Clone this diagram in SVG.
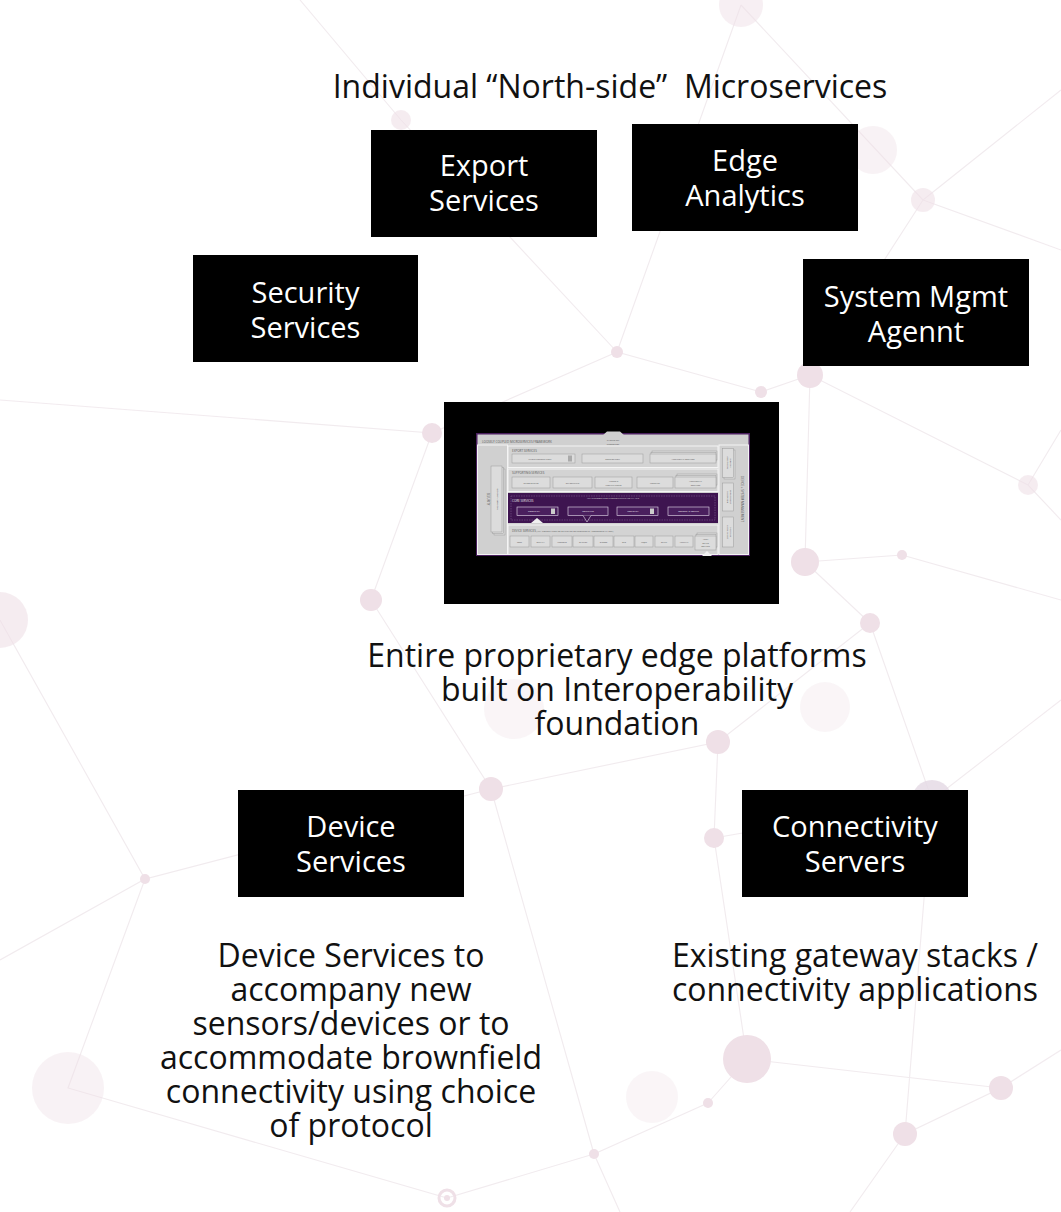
<svg xmlns="http://www.w3.org/2000/svg" width="1061" height="1212" viewBox="0 0 1061 1212">
<style>
.bg-line{stroke:#ece3e8;stroke-width:1.1;fill:none}
.bg-dot{fill:#e9d3dd}
.box{fill:#000}
.wt{font-family:"Open Sans","Noto Sans","DejaVu Sans",sans-serif;font-size:29px;fill:#fff;text-anchor:middle}
.bt{font-family:"Open Sans","Noto Sans","DejaVu Sans",sans-serif;font-size:32px;fill:#111;text-anchor:middle}
.mt{font-family:"Open Sans","Liberation Sans",sans-serif;fill:#555;text-anchor:middle}
.band{fill:#d3d3d3;stroke:#f4f4f4;stroke-width:1}
.ib{fill:#dcdcdc;stroke:#9a9a9a;stroke-width:0.5}
.cb{fill:#4a1f5e;stroke:#e8e0ee;stroke-width:0.6}
</style>
<rect width="1061" height="1212" fill="#fff"/>
<g id="background" opacity="0.7">
<path class="bg-line" d="M741 5L923 200M741 5L617 352M401 120L617 352M617 352L761 392L810 375L1028 485L1061 520M923 200L1061 250M923 200L810 375M617 352L432 433L371 600L491 789M0 400L432 433M810 375L805 562L902 555L1061 600M805 562L870 623L718 742L491 789M718 742L714 838L747 1059L1001 1088L905 1134L932 800L870 623M932 800L1061 700M491 789L145 879L0 620M145 879L68 1088L447 1198M491 789L594 1154L447 1198M708 1103L594 1154M905 1134L850 1212M1001 1088L1061 1050M714 838L932 800M0 960L145 879M747 1059L708 1103M594 1154L620 1212M1028 485L1061 430M401 120L300 0M923 200L1061 90"/>
<circle class="bg-dot" cx="741" cy="5" r="22" opacity="0.5"/>
<circle class="bg-dot" cx="401" cy="120" r="10" opacity="0.6"/>
<circle class="bg-dot" cx="873" cy="150" r="24" opacity="0.4"/>
<circle class="bg-dot" cx="923" cy="200" r="12" opacity="0.6"/>
<circle class="bg-dot" cx="617" cy="352" r="6"/>
<circle class="bg-dot" cx="761" cy="392" r="6"/>
<circle class="bg-dot" cx="810" cy="375" r="13"/>
<circle class="bg-dot" cx="1028" cy="485" r="10" opacity="0.6"/>
<circle class="bg-dot" cx="432" cy="433" r="10"/>
<circle class="bg-dot" cx="371" cy="600" r="11"/>
<circle class="bg-dot" cx="805" cy="562" r="14"/>
<circle class="bg-dot" cx="902" cy="555" r="5"/>
<circle class="bg-dot" cx="870" cy="623" r="10"/>
<circle class="bg-dot" cx="0" cy="620" r="28" opacity="0.6"/>
<circle class="bg-dot" cx="514" cy="709" r="30" opacity="0.3"/>
<circle class="bg-dot" cx="825" cy="707" r="25" opacity="0.3"/>
<circle class="bg-dot" cx="718" cy="742" r="12"/>
<circle class="bg-dot" cx="491" cy="789" r="12"/>
<circle class="bg-dot" cx="714" cy="838" r="10"/>
<circle cx="932" cy="800" r="20" fill="#d9c9da" opacity="0.8"/>
<circle class="bg-dot" cx="145" cy="879" r="5"/>
<circle class="bg-dot" cx="68" cy="1088" r="36" opacity="0.4"/>
<circle class="bg-dot" cx="747" cy="1059" r="24"/>
<circle class="bg-dot" cx="652" cy="1097" r="26" opacity="0.3"/>
<circle class="bg-dot" cx="708" cy="1103" r="5"/>
<circle class="bg-dot" cx="1001" cy="1088" r="12"/>
<circle class="bg-dot" cx="905" cy="1134" r="12"/>
<circle class="bg-dot" cx="594" cy="1154" r="5"/>
<circle cx="447" cy="1198" r="8" fill="none" stroke="#e9d3dd" stroke-width="3"/>
<circle class="bg-dot" cx="447" cy="1198" r="3"/>
</g>

<text class="bt" x="610" y="98" xml:space="preserve">Individual “North-side”  Microservices</text>

<g id="export-services">
<rect class="box" x="371" y="130" width="226" height="107"/>
<text class="wt" x="484" y="176">Export</text>
<text class="wt" x="484" y="211">Services</text>
</g>
<g id="edge-analytics">
<rect class="box" x="632" y="124" width="226" height="107"/>
<text class="wt" x="745" y="171">Edge</text>
<text class="wt" x="745" y="206">Analytics</text>
</g>
<g id="security-services">
<rect class="box" x="193" y="255" width="225" height="107"/>
<text class="wt" x="305.5" y="303">Security</text>
<text class="wt" x="305.5" y="338">Services</text>
</g>
<g id="system-mgmt">
<rect class="box" x="803" y="259" width="226" height="107"/>
<text class="wt" x="916" y="307">System Mgmt</text>
<text class="wt" x="916" y="342">Agennt</text>
</g>

<g id="platform">
<rect class="box" x="444" y="402" width="335" height="202"/>
<rect x="476" y="433" width="274" height="123" fill="#4a1f5e"/>
<rect x="477.5" y="434.5" width="271" height="120" fill="#d0d0d0"/>
<polygon points="592,445 607,431.5 620,431.5 635,445" fill="#d0d0d0"/>
<text class="mt" x="482" y="443" font-size="3" style="text-anchor:start">LOOSELY COUPLED MICROSERVICES FRAMEWORK</text>
<text class="mt" x="613" y="441" font-size="2.4">CHOICE OF</text>
<text class="mt" x="613" y="445" font-size="2.4">PROTOCOL</text>
<rect x="477.5" y="445" width="30" height="109.5" fill="#d0d0d0" stroke="#f4f4f4" stroke-width="1"/>
<text class="mt" font-size="2.8" transform="translate(487,499) rotate(90)">SECURITY</text>
<rect class="ib" x="494" y="469" width="11" height="66"/>
<rect class="ib" x="492.5" y="467.5" width="11" height="66"/>
<rect class="ib" x="491" y="466" width="11" height="66"/>
<text class="mt" font-size="2.4" transform="translate(496.5,499) rotate(90)">SECURITY SERVICES</text>
<rect x="719" y="445" width="29.5" height="109.5" fill="#d0d0d0" stroke="#f4f4f4" stroke-width="1"/>
<text class="mt" font-size="3" transform="translate(741,499) rotate(90)">DEVICE + SYSTEM MANAGEMENT</text>
<rect class="ib" x="724" y="450" width="11" height="29"/>
<rect class="ib" x="722.5" y="448.5" width="11" height="29"/>
<text class="mt" font-size="2.2" transform="translate(726.5,463) rotate(90)">ADDITIONAL</text>
<text class="mt" font-size="2.2" transform="translate(730,463) rotate(90)">SERVICES</text>
<rect class="ib" x="722.5" y="483" width="11" height="28"/>
<text class="mt" font-size="2.2" transform="translate(726.5,497) rotate(90)">CONTAINER</text>
<text class="mt" font-size="2.2" transform="translate(730,497) rotate(90)">DEPLOYMENT</text>
<rect class="ib" x="722.5" y="517" width="11" height="30"/>
<text class="mt" font-size="2.2" transform="translate(726.5,532) rotate(90)">LOCAL MGMT</text>
<text class="mt" font-size="2.2" transform="translate(730,532) rotate(90)">CONSOLE</text>
<rect class="band" x="508" y="446" width="210" height="21.5"/>
<text class="mt" x="512" y="451.5" font-size="3" style="text-anchor:start">EXPORT SERVICES</text>
<rect class="ib" x="512" y="454" width="63" height="9"/>
<text class="mt" x="540" y="459.5" font-size="2.2">CLIENT REGISTRATION</text>
<rect x="568" y="455.5" width="4" height="6" fill="#aaa"/>
<rect class="ib" x="582" y="454" width="61" height="9"/>
<text class="mt" x="612.5" y="459.5" font-size="2.2">DISTRIBUTION</text>
<rect class="ib" x="652" y="451" width="65" height="9"/>
<rect class="ib" x="651" y="452.5" width="65" height="9"/>
<rect class="ib" x="650" y="454" width="66" height="9"/>
<text class="mt" x="683" y="459.5" font-size="2.2">ADDITIONAL SERVICES</text>
<rect class="band" x="508" y="469" width="210" height="22.5"/>
<text class="mt" x="512" y="474" font-size="3" style="text-anchor:start">SUPPORTING SERVICES</text>
<rect class="ib" x="512" y="477" width="38" height="11"/>
<text class="mt" x="531" y="483.5" font-size="2.2">RULES ENGINE</text>
<rect class="ib" x="553" y="477" width="39" height="11"/>
<text class="mt" x="572.5" y="483.5" font-size="2.2">SCHEDULING</text>
<rect class="ib" x="595" y="477" width="37" height="11"/>
<text class="mt" x="613.5" y="482" font-size="2.2">ALERTS &amp;</text>
<text class="mt" x="613.5" y="485.5" font-size="2.2">NOTIFICATIONS</text>
<rect class="ib" x="637" y="477" width="36" height="11"/>
<text class="mt" x="655" y="483.5" font-size="2.2">LOGGING</text>
<rect class="ib" x="677" y="474" width="40" height="11"/>
<rect class="ib" x="676" y="475.5" width="40" height="11"/>
<rect class="ib" x="675" y="477" width="41" height="11"/>
<text class="mt" x="695.5" y="482" font-size="2.2">ADDITIONAL</text>
<text class="mt" x="695.5" y="485.5" font-size="2.2">SERVICES</text>
<rect x="508" y="493" width="210" height="30" fill="#3e1450"/>
<rect x="511" y="496" width="204" height="24" fill="none" stroke="#8a6a9a" stroke-width="0.5" stroke-dasharray="1.5,1"/>
<text class="mt" x="512" y="502" font-size="3" style="text-anchor:start;fill:#eee">CORE SERVICES</text>
<text class="mt" x="613" y="498.5" font-size="2.2" style="fill:#ddd">ALL MICROSERVICES INTERCOMMUNICATE VIA APIs</text>
<rect class="cb" x="517" y="507" width="41" height="8.5"/>
<text class="mt" x="534" y="512.3" font-size="2.2" style="fill:#fff">CORE DATA</text>
<rect x="551" y="508.5" width="4" height="5.5" fill="#ccc"/>
<rect class="cb" x="568" y="507" width="40" height="8.5"/>
<text class="mt" x="588" y="512.3" font-size="2.2" style="fill:#fff">COMMAND</text>
<polyline points="583,515.5 587,522 591,515.5" fill="#3e1450" stroke="#e8e0ee" stroke-width="0.6"/>
<rect class="cb" x="617" y="507" width="41" height="8.5"/>
<text class="mt" x="633" y="512.3" font-size="2.2" style="fill:#fff">METADATA</text>
<rect x="650" y="508.5" width="4" height="5.5" fill="#ccc"/>
<rect class="cb" x="668" y="507" width="41" height="8.5"/>
<text class="mt" x="688.5" y="512.3" font-size="2.2" style="fill:#fff">REGISTRY &amp; CONFIG</text>
<polygon points="531,523 537,518 543,523" fill="#f0f0f0"/>
<rect class="band" x="508" y="525" width="210" height="29.5"/>
<text class="mt" x="512" y="531.5" font-size="3" style="text-anchor:start">DEVICE SERVICES <tspan font-size="2.2">(ANY COMBINATION OF STANDARD OR PROPRIETARY PROTOCOLS VIA SDK)</tspan></text>
<rect class="ib" x="510" y="536" width="19" height="11"/>
<text class="mt" x="519.5" y="542.5" font-size="2.2">REST</text>
<rect class="ib" x="531" y="536" width="19" height="11"/>
<text class="mt" x="540.5" y="542.5" font-size="2.2">OPC-UA</text>
<rect class="ib" x="552" y="536" width="20" height="11"/>
<text class="mt" x="562" y="542.5" font-size="2.2">MODBUS</text>
<rect class="ib" x="573" y="536" width="20" height="11"/>
<text class="mt" x="583" y="542.5" font-size="2.2">BACNET</text>
<rect class="ib" x="594" y="536" width="19" height="11"/>
<text class="mt" x="603.5" y="542.5" font-size="2.2">ZIGBEE</text>
<rect class="ib" x="614" y="536" width="20" height="11"/>
<text class="mt" x="624" y="542.5" font-size="2.2">BLE</text>
<rect class="ib" x="635" y="536" width="18" height="11"/>
<text class="mt" x="644" y="542.5" font-size="2.2">MQTT</text>
<rect class="ib" x="655" y="536" width="18" height="11"/>
<text class="mt" x="664" y="542.5" font-size="2.2">SNMP</text>
<rect class="ib" x="675" y="536" width="18" height="11"/>
<text class="mt" x="684" y="542.5" font-size="2.2">VIRTUAL</text>
<rect class="ib" x="697" y="533" width="20" height="14"/>
<rect class="ib" x="696" y="534.5" width="20" height="14"/>
<rect class="ib" x="695" y="536" width="21" height="14"/>
<text class="mt" x="705.5" y="540" font-size="2">ADD'L</text>
<text class="mt" x="705.5" y="543.5" font-size="2">DEVICE</text>
<text class="mt" x="705.5" y="547" font-size="2">SERVICES</text>
<polygon points="702,556 707,551 712,556" fill="#f0f0f0"/>
</g>

<g id="platform-caption">
<text class="bt" x="617" y="667">Entire proprietary edge platforms</text>
<text class="bt" x="617" y="701">built on Interoperability</text>
<text class="bt" x="617" y="735">foundation</text>
</g>

<g id="device-services">
<rect class="box" x="238" y="790" width="226" height="107"/>
<text class="wt" x="351" y="837">Device</text>
<text class="wt" x="351" y="872">Services</text>
</g>
<g id="connectivity-servers">
<rect class="box" x="742" y="790" width="226" height="107"/>
<text class="wt" x="855" y="837">Connectivity</text>
<text class="wt" x="855" y="872">Servers</text>
</g>

<g id="device-caption">
<text class="bt" x="351" y="967">Device Services to</text>
<text class="bt" x="351" y="1001">accompany new</text>
<text class="bt" x="351" y="1035">sensors/devices or to</text>
<text class="bt" x="351" y="1069">accommodate brownfield</text>
<text class="bt" x="351" y="1103">connectivity using choice</text>
<text class="bt" x="351" y="1137">of protocol</text>
</g>
<g id="connectivity-caption">
<text class="bt" x="855" y="967">Existing gateway stacks /</text>
<text class="bt" x="855" y="1001">connectivity applications</text>
</g>
<g id="connectors"/>
</svg>
